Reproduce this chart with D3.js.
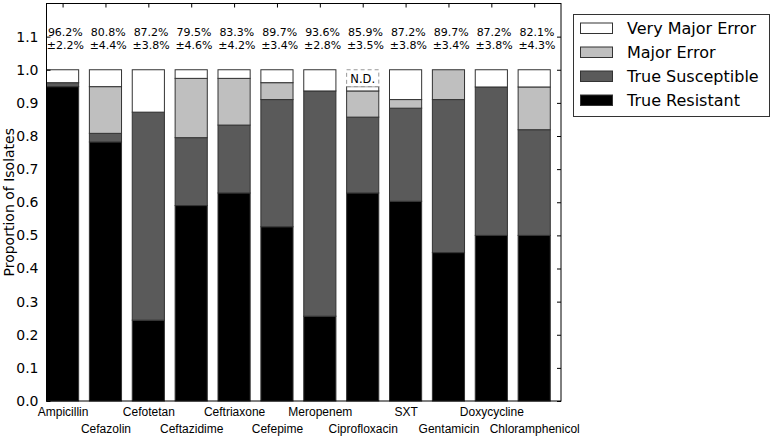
<!DOCTYPE html>
<html><head><meta charset="utf-8">
<script src="https://cdn.jsdelivr.net/npm/d3@7"></script>
<style>body{margin:0;background:#fff}svg{display:block}</style>
</head><body><svg id="c" width="773" height="439"></svg>
<script>
const categories = ["Ampicillin","Cefazolin","Cefotetan","Ceftazidime","Ceftriaxone","Cefepime","Meropenem","Ciprofloxacin","SXT","Gentamicin","Doxycycline","Chloramphenicol"];
const trueResistant   = [0.949,0.782,0.244,0.590,0.628,0.526,0.256,0.628,0.603,0.448,0.500,0.500];
const trueSusceptible = [0.012,0.026,0.628,0.205,0.205,0.384,0.680,0.229,0.281,0.462,0.448,0.319];
const majorError      = [0.000,0.141,0.000,0.179,0.141,0.051,0.000,0.079,0.026,0.090,0.000,0.129];
const veryMajorError  = [0.039,0.051,0.128,0.026,0.026,0.039,0.064,0.013,0.090,0.000,0.052,0.052];
const notDetermined   = [0,0,0,0,0,0,0,0.051,0,0,0,0];
const agreement = ["96.2%","80.8%","87.2%","79.5%","83.3%","89.7%","93.6%","85.9%","87.2%","89.7%","87.2%","82.1%"];
const margin    = ["±2.2%","±4.4%","±3.8%","±4.6%","±4.2%","±3.4%","±2.8%","±3.5%","±3.8%","±3.4%","±3.8%","±4.3%"];
const seriesNames = ["True Resistant","True Susceptible","Major Error","Very Major Error"];
const seriesColors = ["#000000","#5a5a5a","#bfbfbf","#ffffff"];
const yTicks = [0,0.1,0.2,0.3,0.4,0.5,0.6,0.7,0.8,0.9,1.0,1.1];

const svg = d3.select("#c");
const L=46.5, R=561, T=3.5, B=401;
const x = d3.scaleLinear().domain([0,12]).range([L,R]);
const y = d3.scaleLinear().domain([0,1.2]).range([B,T]);
const barW = 0.75;
const fontD = "DejaVu Sans, sans-serif";

const series = [trueResistant,trueSusceptible,majorError,veryMajorError];
const g = svg.append("g");
categories.forEach((c,i)=>{
  let base=0;
  series.forEach((s,k)=>{
    const v=s[i];
    if(v>0){
      g.append("rect").attr("x",x(i)).attr("width",x(i+barW)-x(i))
       .attr("y",y(base+v)).attr("height",y(base)-y(base+v))
       .attr("fill",seriesColors[k]).attr("stroke","#333").attr("stroke-width",1);
    }
    base+=v;
  });
  if(notDetermined[i]>0){
    g.append("rect").attr("x",x(i)).attr("width",x(i+barW)-x(i))
     .attr("y",y(base+notDetermined[i])).attr("height",y(base)-y(base+notDetermined[i]))
     .attr("fill","#fff").attr("stroke","#999").attr("stroke-width",1).attr("stroke-dasharray","4,3");
    g.append("text").attr("x",x(i+barW/2)).attr("y",y(base+notDetermined[i]/2)+4.5)
     .attr("text-anchor","middle").attr("font-family",fontD).attr("font-size",11.5).text("N.D.");
  }
  g.append("text").attr("x",x(i+0.44)).attr("y",35.5).attr("text-anchor","middle")
   .attr("font-family",fontD).attr("font-size",11).text(agreement[i]);
  g.append("text").attr("x",x(i+0.44)).attr("y",49).attr("text-anchor","middle")
   .attr("font-family",fontD).attr("font-size",11).text(margin[i]);
});

// frame
svg.append("rect").attr("x",L).attr("y",T).attr("width",R-L).attr("height",B-T)
  .attr("fill","none").attr("stroke","#000").attr("stroke-width",1);

// left axis (inward ticks)
const yAxis = d3.axisLeft(y).tickValues(yTicks).tickFormat(d3.format(".1f")).tickSizeInner(-4).tickSizeOuter(0).tickPadding(8);
const ya = svg.append("g").attr("transform",`translate(${L},0)`).call(yAxis);
ya.select(".domain").remove();
ya.selectAll("text").attr("font-family",fontD).attr("font-size",14).attr("fill","#000");
ya.selectAll("line").attr("stroke","#000");
// right ticks
const yr = svg.append("g").attr("transform",`translate(${R},0)`).call(d3.axisRight(y).tickValues(yTicks).tickSizeInner(-4).tickSizeOuter(0).tickFormat(""));
yr.select(".domain").remove(); yr.selectAll("line").attr("stroke","#000");

// x axis labels
const centers = categories.map((c,i)=>i+barW/2);
const xTop = svg.append("g").attr("transform",`translate(0,${T})`).call(d3.axisTop(x).tickValues(centers).tickSizeInner(-4).tickSizeOuter(0).tickFormat(""));
xTop.select(".domain").remove(); xTop.selectAll("line").attr("stroke","#000");
const xa = svg.append("g").attr("transform",`translate(0,${B})`).call(d3.axisBottom(x).tickValues(centers).tickSizeInner(0).tickSizeOuter(0).tickPadding(0).tickFormat((d,i)=>categories[i]));
xa.select(".domain").remove();
xa.selectAll("text").attr("font-family","Liberation Sans, Arial, sans-serif").attr("font-size",12).attr("fill","#000")
  .attr("dy",null).attr("y",(d,i)=> i%2===0 ? 15 : 32);

// y label
svg.append("text").attr("transform",`translate(14,${(T+B)/2}) rotate(-90)`).attr("text-anchor","middle")
  .attr("font-family",fontD).attr("font-size",14).text("Proportion of Isolates");

// legend
const lg = svg.append("g");
lg.append("rect").attr("x",573.5).attr("y",14.5).attr("width",196).attr("height",102).attr("fill","#fff").attr("stroke","#333");
const legendOrder = [3,2,1,0];
legendOrder.forEach((k,j)=>{
  const cy = 28 + j*24;
  lg.append("rect").attr("x",580.5).attr("y",cy-5).attr("width",32).attr("height",10.5).attr("fill",seriesColors[k]).attr("stroke","#333");
  lg.append("text").attr("x",627).attr("y",cy+6).attr("font-family",fontD).attr("font-size",16).text(seriesNames[k]);
});
</script></body></html>
